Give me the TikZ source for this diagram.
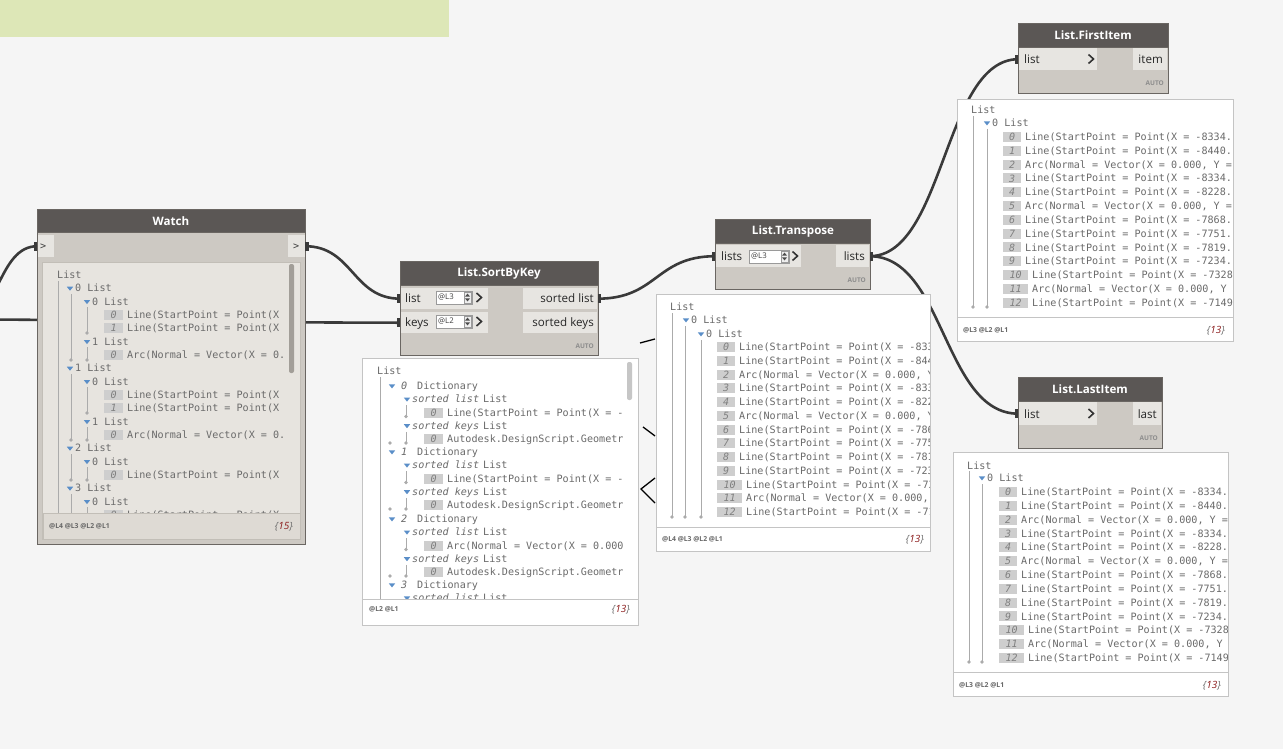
\documentclass[tikz,border=0pt]{standalone}
\usepackage{fontspec}
\setmainfont{Open Sans}
\newfontfamily\monof{DejaVu Sans Mono}
\usetikzlibrary{calc}
\pgfdeclarelayer{bglayer}
\pgfdeclarelayer{wirelayer}
\pgfsetlayers{bglayer,wirelayer,main}
\definecolor{bgc}{HTML}{F5F5F5}
\definecolor{greenc}{HTML}{DDE7B7}
\definecolor{hdrc}{HTML}{5B5755}
\definecolor{bodyc}{HTML}{CDC9C3}
\definecolor{portc}{HTML}{E7E5E1}
\definecolor{brdc}{HTML}{6A6662}
\definecolor{wirec}{HTML}{3A3A3A}
\definecolor{txtc}{HTML}{6A6A6A}
\definecolor{tric}{HTML}{5A8EC8}
\definecolor{linec}{HTML}{ABABAB}
\definecolor{iboxc}{HTML}{CECECE}
\definecolor{inumc}{HTML}{808080}
\definecolor{prvbrd}{HTML}{C4C4C4}
\definecolor{redc}{HTML}{8B1A1A}
\definecolor{watchin}{HTML}{E7E4DF}
\definecolor{watchft}{HTML}{DEDAD4}
\definecolor{watchbrd}{HTML}{C2BEB7}
\definecolor{scrollc}{HTML}{C6C6C6}
\definecolor{wscrollc}{HTML}{A29E98}
\definecolor{lvlbrd}{HTML}{9A9A9A}
\definecolor{spinc}{HTML}{EEEEEE}
\definecolor{chevc}{HTML}{333333}
\tikzset{
  wire/.style={draw=wirec, line width=2.6pt},
  mono/.style={font=\monof\fontsize{10.1}{11}\selectfont, text=txtc, inner sep=0pt, anchor=base west},
  monoit/.style={font=\monof\itshape\fontsize{10.1}{11}\selectfont, text=txtc, inner sep=0pt, anchor=base west},
  ibox/.style={fill=iboxc, minimum height=10, inner sep=0pt, font=\monof\itshape\fontsize{10}{10}\selectfont, text=inumc},
  ttl/.style={font=\bfseries\fontsize{11.6}{13}\selectfont, text=white, inner sep=0pt},
  plabel/.style={font=\fontsize{11.6}{13}\selectfont, text=black!85, inner sep=0pt, anchor=base west},
  plabelr/.style={font=\fontsize{11.6}{13}\selectfont, text=black!85, inner sep=0pt, anchor=base east},
  autolbl/.style={font=\bfseries\fontsize{6.5}{7}\selectfont, text=black!45, anchor=base east, inner sep=0pt},
  lvlft/.style={font=\bfseries\fontsize{6.8}{7}\selectfont, text=black!60, anchor=base west, inner sep=0pt},
  cnt/.style={font=\itshape\fontsize{10}{11}\selectfont, text=txtc, anchor=base east, inner sep=0pt},
  nodebody/.style={fill=bodyc, draw=brdc, line width=0.8pt, inner sep=0pt, anchor=north west},
  nodehdr/.style={fill=hdrc, draw=brdc, line width=0.8pt, inner sep=0pt, anchor=north west},
  portrow/.style={fill=portc, inner sep=0pt, anchor=north west},
  preview/.style={fill=white, draw=prvbrd, line width=0.8pt, inner sep=0pt, anchor=north west},
  treeline/.style={draw=linec, line width=0.8pt},
  chev/.style={draw=chevc, line width=1.6pt},
}
\newcommand{\dtri}[2]{\fill[tric] ({#1-3.2},{#2-1.6}) -- ({#1+3.2},{#2-1.6}) -- (#1,{#2+2.4}) -- cycle;}
\newcommand{\dtxt}[4]{\node[mono] (#1) at (#2,{#3+3.6}) {#4};}
\newcommand{\dtxti}[4]{\node[monoit] (#1) at (#2,{#3+3.6}) {#4};}
\newcommand{\dibx}[5]{\node[ibox, minimum width=#3, anchor=west] (#1) at (#2,#4) {#5};}
\newcommand{\tdotmark}[2]{\fill[linec] (#1,{#2}) circle (1.8pt);}
\newcommand{\dvl}[3]{\draw[treeline] (#1,#2) -- (#1,#3);}
\newcommand{\lvlbox}[5]{%
  \node[draw=lvlbrd, fill=white, line width=0.6pt, minimum width=#5, minimum height=13, anchor=north west, inner sep=0pt] (#1) at (#2,#3) {};
  \node[font=\fontsize{7.8}{8}\selectfont, text=black!75, anchor=west, inner sep=0pt] (#1-t) at ({#2+2},{#3+6.5}) {#4};
  \draw[lvlbrd, fill=spinc, line width=0.5pt] ({#2+#5-8},{#3+1}) rectangle ({#2+#5-1},{#3+12});
  \fill[black!70] ({#2+#5-7},{#3+5.6}) -- ({#2+#5-2},{#3+5.6}) -- ({#2+#5-4.5},{#3+2.6}) -- cycle;
  \fill[black!70] ({#2+#5-7},{#3+7.4}) -- ({#2+#5-2},{#3+7.4}) -- ({#2+#5-4.5},{#3+10.4}) -- cycle;
}
\newcommand{\chevron}[2]{\draw[chev] ({#1-2.5},{#2-4.5}) -- ({#1+2.5},#2) -- ({#1-2.5},{#2+4.5});}
\newcommand{\itemsdata}{0/{Line(StartPoint = Point(X = -8334.},1/{Line(StartPoint = Point(X = -8440.},2/{Arc(Normal = Vector(X = 0.000, Y =},3/{Line(StartPoint = Point(X = -8334.},4/{Line(StartPoint = Point(X = -8228.},5/{Arc(Normal = Vector(X = 0.000, Y =},6/{Line(StartPoint = Point(X = -7868.},7/{Line(StartPoint = Point(X = -7751.},8/{Line(StartPoint = Point(X = -7819.},9/{Line(StartPoint = Point(X = -7234.},10/{Line(StartPoint = Point(X = -7328},11/{Arc(Normal = Vector(X = 0.000, Y},12/{Line(StartPoint = Point(X = -7149}}
\newcommand{\itemlist}[4]{%
  \foreach \i/\t in \itemsdata {
    \pgfmathsetmacro{\yc}{#3+#4*\i}
    \pgfmathsetmacro{\bw}{ifthenelse(\i<10,18,25)}
    \pgfmathsetmacro{\tx}{#2+\bw+4}
    \node[ibox, minimum width=\bw, anchor=west] (#1b\i) at (#2,\yc) {\i};
    \node[mono] (#1t\i) at (\tx,{\yc+3.6}) {\t};
  }}
\begin{document}
\begin{tikzpicture}[x=1pt,y=-1pt]
\useasboundingbox (0,0) rectangle (1283,749);
\begin{pgfonlayer}{bglayer}
\fill[bgc] (0,0) rectangle (1283,749);
\fill[greenc] (0,0) rectangle (449,37);
\end{pgfonlayer}

% ---------------- Watch node ----------------
\node[nodebody, minimum width=268, minimum height=335] (watch) at (37,209) {};
\node[nodehdr, minimum width=268, minimum height=23] (watch-h) at (37,209) {};
\node[ttl] (watch-t) at (171,221) {Watch};
\node[portrow, minimum width=16, minimum height=22] (w-in) at (37.4,235) {};
\node[portrow, minimum width=17, minimum height=22] (w-out) at (287.6,235) {};
\node[mono, text=black!75] (w-in-t) at (40,249) {>};
\node[mono, text=black!75] (w-out-t) at (293,249) {>};
\node[fill=watchin, draw=watchbrd, line width=0.6pt, minimum width=258, minimum height=277, anchor=north west, inner sep=0pt] (w-view) at (42,262) {};
\node[fill=watchft, draw=watchbrd, line width=0.6pt, minimum width=257, minimum height=26, anchor=north west, inner sep=0pt] (w-foot) at (42.5,513) {};
\fill[wscrollc, rounded corners=2] (289,264) rectangle (294,373);
\node[lvlft] (w-lv) at (49,528) {@L4 @L3 @L2 @L1};
\node[cnt] (w-cnt) at (293,529) {\{\textcolor{redc}{15}\}};
\begin{scope}
\clip (44,264) rectangle (284.8,512);
\dvl{58}{281}{520}
\dvl{71}{294}{360}\tdotmark{71}{360}
\dvl{71}{374}{440}\tdotmark{71}{440}
\dvl{71}{454}{480}\tdotmark{71}{480}
\dvl{71}{494}{520}
\dvl{87}{307}{333}\tdotmark{87}{333}
\dvl{87}{347}{360}\tdotmark{87}{360}
\dvl{87}{387}{413}\tdotmark{87}{413}
\dvl{87}{427}{440}\tdotmark{87}{440}
\dvl{87}{467}{480}\tdotmark{87}{480}
\dvl{87}{507}{520}
\dtxt{wt0}{57}{275}{List}
\dtri{70}{288.3}\dtxt{wt1}{75}{288.3}{0 List}
\dtri{87}{301.7}\dtxt{wt2}{92}{301.7}{0 List}
\dibx{wb3}{104}{19}{315}{0}\dtxt{wt3}{127}{315}{Line(StartPoint = Point(X = -8334.}
\dibx{wb4}{104}{19}{328.3}{1}\dtxt{wt4}{127}{328.3}{Line(StartPoint = Point(X = -8440.}
\dtri{87}{341.7}\dtxt{wt5}{92}{341.7}{1 List}
\dibx{wb6}{104}{19}{355}{0}\dtxt{wt6}{127}{355}{Arc(Normal = Vector(X = 0.000, Y}
\dtri{70}{368.3}\dtxt{wt7}{75}{368.3}{1 List}
\dtri{87}{381.7}\dtxt{wt8}{92}{381.7}{0 List}
\dibx{wb9}{104}{19}{395}{0}\dtxt{wt9}{127}{395}{Line(StartPoint = Point(X = -8334.}
\dibx{wb10}{104}{19}{408.3}{1}\dtxt{wt10}{127}{408.3}{Line(StartPoint = Point(X = -8228.}
\dtri{87}{421.7}\dtxt{wt11}{92}{421.7}{1 List}
\dibx{wb12}{104}{19}{435}{0}\dtxt{wt12}{127}{435}{Arc(Normal = Vector(X = 0.000, Y}
\dtri{70}{448.3}\dtxt{wt13}{75}{448.3}{2 List}
\dtri{87}{461.7}\dtxt{wt14}{92}{461.7}{0 List}
\dibx{wb15}{104}{19}{475}{0}\dtxt{wt15}{127}{475}{Line(StartPoint = Point(X = -7868.}
\dtri{70}{488.3}\dtxt{wt16}{75}{488.3}{3 List}
\dtri{87}{501.7}\dtxt{wt17}{92}{501.7}{0 List}
\dibx{wb18}{104}{19}{515}{0}\dtxt{wt18}{127}{515}{Line(StartPoint = Point(X = -7751.}
\end{scope}

% ---------------- List.SortByKey ----------------
\node[nodebody, minimum width=198, minimum height=94] (sbk) at (400,261) {};
\node[nodehdr, minimum width=198, minimum height=24] (sbk-h) at (400,261) {};
\node[ttl] (sbk-t) at (499,273) {List.SortByKey};
\node[portrow, minimum width=87, minimum height=21] (sbk-list) at (400.4,288) {};
\node[portrow, minimum width=87, minimum height=21] (sbk-keys) at (400.4,312) {};
\node[portrow, minimum width=74.2, minimum height=21] (sbk-sl) at (523,288) {};
\node[portrow, minimum width=74.2, minimum height=21] (sbk-sk) at (523,312) {};
\node[plabel] (sbk-list-t) at (405,302.5) {list};
\node[plabel] (sbk-keys-t) at (405,326.5) {keys};
\node[plabelr] (sbk-sl-t) at (594,302.5) {sorted list};
\node[plabelr] (sbk-sk-t) at (594,326.5) {sorted keys};
\lvlbox{sbk-l1}{436}{291}{@L3}{36}
\lvlbox{sbk-l2}{436}{315}{@L2}{36}
\chevron{479}{297.5}
\chevron{479}{321.5}
\node[autolbl] (sbk-auto) at (594,348) {AUTO};

% ---------------- List.Transpose ----------------
\node[nodebody, minimum width=155, minimum height=70] (tp) at (715,219) {};
\node[nodehdr, minimum width=155, minimum height=24] (tp-h) at (715,219) {};
\node[ttl] (tp-t) at (793,231.5) {List.Transpose};
\node[portrow, minimum width=85, minimum height=22] (tp-in) at (715.4,245) {};
\node[portrow, minimum width=33.2, minimum height=22] (tp-out) at (836,245) {};
\node[plabel] (tp-in-t) at (721,260.5) {lists};
\node[plabelr] (tp-out-t) at (865,260.5) {lists};
\lvlbox{tp-l1}{749}{250}{@L3}{40}
\chevron{795}{256}
\node[autolbl] (tp-auto) at (866,282) {AUTO};

% ---------------- List.FirstItem ----------------
\node[nodebody, minimum width=150, minimum height=70] (fi) at (1018,23) {};
\node[nodehdr, minimum width=150, minimum height=24] (fi-h) at (1018,23) {};
\node[ttl] (fi-t) at (1093,35.5) {List.FirstItem};
\node[portrow, minimum width=78, minimum height=22] (fi-in) at (1018.4,48) {};
\node[portrow, minimum width=34.2, minimum height=22] (fi-out) at (1133,48) {};
\node[plabel] (fi-in-t) at (1024,63.5) {list};
\node[plabelr] (fi-out-t) at (1163,63.5) {item};
\chevron{1091}{59}
\node[autolbl] (fi-auto) at (1164,86) {AUTO};

% ---------------- List.LastItem ----------------
\node[nodebody, minimum width=144, minimum height=71] (li) at (1018,377) {};
\node[nodehdr, minimum width=144, minimum height=24] (li-h) at (1018,377) {};
\node[ttl] (li-t) at (1090,389.5) {List.LastItem};
\node[portrow, minimum width=78, minimum height=23] (li-in) at (1018.4,402) {};
\node[portrow, minimum width=28.2, minimum height=23] (li-out) at (1133,402) {};
\node[plabel] (li-in-t) at (1024,418) {list};
\node[plabelr] (li-out-t) at (1157,418) {last};
\chevron{1091}{413.5}
\node[autolbl] (li-auto) at (1158,440) {AUTO};

% ---------------- wires ----------------
\coordinate (src1) at (-40,320);
\coordinate (src2) at (-120,319);
\begin{pgfonlayer}{wirelayer}
\draw[wire] (src1) .. controls +(40,0) and +(-40,0) .. (w-in.west);
\draw[wire] (src2) .. controls +(150,0) and +(-150,0) .. (sbk-keys.west);
\draw[wire] (w-out.east) .. controls +(48,0) and +(-48,0) .. (sbk-list.west);
\draw[wire] (sbk-sl.east) .. controls +(60,0) and +(-60,0) .. (tp-in.west);
\draw[wire] (tp-out.east) .. controls +(75,0) and +(-75,0) .. (fi-in.west);
\draw[wire] (tp-out.east) .. controls +(75,0) and +(-75,0) .. (li-in.west);
\end{pgfonlayer}
\foreach \p in {w-in,sbk-list,sbk-keys,tp-in,fi-in,li-in}{
  \fill[wirec] ($(\p.west)+(-3.5,-4.5)$) rectangle +(3.5,9);
}
\foreach \p in {w-out,sbk-sl,tp-out}{
  \fill[wirec] ($(\p.east)+(0,-4.5)$) rectangle +(3.5,9);
}

% ---------------- SortByKey preview ----------------
\node[preview, minimum width=276, minimum height=267] (sbk-pv) at (362,358) {};
\draw[prvbrd, line width=0.8pt] (362,599) -- (638,599);
\fill[scrollc, rounded corners=2] (627,362) rectangle (632,400);
\node[lvlft] (sbk-lv) at (369,611) {@L2 @L1};
\node[cnt] (sbk-cnt) at (630,612) {\{\textcolor{redc}{13}\}};
\begin{scope}
\clip (363,360) rectangle (622,598);
\dvl{380}{377}{610}
\foreach \d/\yy in {0/386,1/452,2/519}{
  \pgfmathsetmacro{\ya}{\yy+13.2}
  \pgfmathsetmacro{\yb}{\yy+26.5}
  \pgfmathsetmacro{\yd}{\yy+39.8}
  \pgfmathsetmacro{\ye}{\yy+53}
  \dtri{392}{\yy}
  \dtxti{sd\d n}{401}{\yy}{\d}
  \dtxt{sd\d t}{417}{\yy}{Dictionary}
  \dtri{407}{\ya}
  \dtxti{sd\d a}{412}{\ya}{sorted list}
  \dtxt{sd\d b}{483}{\ya}{List}
  \dtri{407}{\yd}
  \dtxti{sd\d c}{412}{\yd}{sorted keys}
  \dtxt{sd\d e}{483}{\yd}{List}
  \dibx{sd\d f}{424}{19}{\yb}{0}
  \dibx{sd\d g}{424}{19}{\ye}{0}
  \dtxt{sd\d h}{447}{\ye}{Autodesk.DesignScript.Geometr}
  \draw[treeline] (406,{\ya+6}) -- (406,{\yb+4});
  \tdotmark{406}{\yb+4}
  \draw[treeline] (406,{\yd+6}) -- (406,{\ye+4});
  \tdotmark{406}{\ye+4}
  \tdotmark{390}{\ye+4}
}
\dtxt{sd0i}{447}{412.5}{Line(StartPoint = Point(X = -8334.}
\dtxt{sd1i}{447}{478.5}{Line(StartPoint = Point(X = -8440.}
\dtxt{sd2i}{447}{545.5}{Arc(Normal = Vector(X = 0.000, Y}
\dtxt{sl0}{377}{371}{List}
\dtri{392}{585}
\dtxti{sd3n}{401}{585}{3}
\dtxt{sd3t}{417}{585}{Dictionary}
\dtri{407}{598}
\dtxti{sd3a}{412}{598}{sorted list}
\dtxt{sd3b}{483}{598}{List}
\end{scope}

% ---------------- Transpose preview ----------------
\node[preview, minimum width=274, minimum height=257] (tp-pv) at (656,294) {};
\draw[prvbrd, line width=0.8pt] (656,527) -- (930,527);
\node[lvlft] (tp-lv) at (662,541) {@L4 @L3 @L2 @L1};
\node[cnt] (tp-cnt) at (924,542) {\{\textcolor{redc}{13}\}};
\begin{scope}
\clip (657,296) rectangle (929,526);
\dvl{672}{313}{517}\tdotmark{672}{517}
\dvl{685}{326}{517}\tdotmark{685}{517}
\dvl{701}{340}{517}\tdotmark{701}{517}
\dtxt{tpl0}{670}{307}{List}
\dtri{686}{320}\dtxt{tpl1}{691}{320}{0 List}
\dtri{701}{334}\dtxt{tpl2}{706}{334}{0 List}
\itemlist{tpi}{717}{347}{13.75}
\end{scope}

% ---------------- FirstItem preview ----------------
\node[preview, minimum width=276, minimum height=242] (fi-pv) at (957,99) {};
\draw[prvbrd, line width=0.8pt] (957,317) -- (1233,317);
\node[lvlft] (fi-lv) at (963,332) {@L3 @L2 @L1};
\node[cnt] (fi-cnt) at (1225,333) {\{\textcolor{redc}{13}\}};
\begin{scope}
\clip (958,100) rectangle (1232,316);
\dvl{973}{116}{307}\tdotmark{973}{307}
\dvl{987}{129}{307}\tdotmark{987}{307}
\dtxt{fil0}{971}{110}{List}
\dtri{987}{123}\dtxt{fil1}{992}{123}{0 List}
\itemlist{fii}{1003}{137}{13.8}
\end{scope}

% ---------------- LastItem preview ----------------
\node[preview, minimum width=275, minimum height=244] (li-pv) at (953,452) {};
\draw[prvbrd, line width=0.8pt] (953,672) -- (1228,672);
\node[lvlft] (li-lv) at (959,687) {@L3 @L2 @L1};
\node[cnt] (li-cnt) at (1221,688) {\{\textcolor{redc}{13}\}};
\begin{scope}
\clip (954,453) rectangle (1227,671);
\dvl{969}{471}{662}\tdotmark{969}{662}
\dvl{982}{484}{662}\tdotmark{982}{662}
\dtxt{lil0}{967}{466}{List}
\dtri{982}{478}\dtxt{lil1}{987}{478}{0 List}
\itemlist{lii}{999}{492}{13.83}
\end{scope}

% ---------------- small wire fragments ----------------
\coordinate (s1a) at (640,343); \coordinate (s1b) at (655,339);
\coordinate (s2a) at (643,427); \coordinate (s2b) at (655,436);
\coordinate (s3a) at (655,478); \coordinate (s3b) at (641,489); \coordinate (s3c) at (655,503);
\draw[black, line width=1.3pt] (s1a) -- (s1b);
\draw[black, line width=1.3pt] (s2a) -- (s2b);
\draw[black, line width=1.3pt] (s3a) -- (s3b) -- (s3c);
\end{tikzpicture}
\end{document}
